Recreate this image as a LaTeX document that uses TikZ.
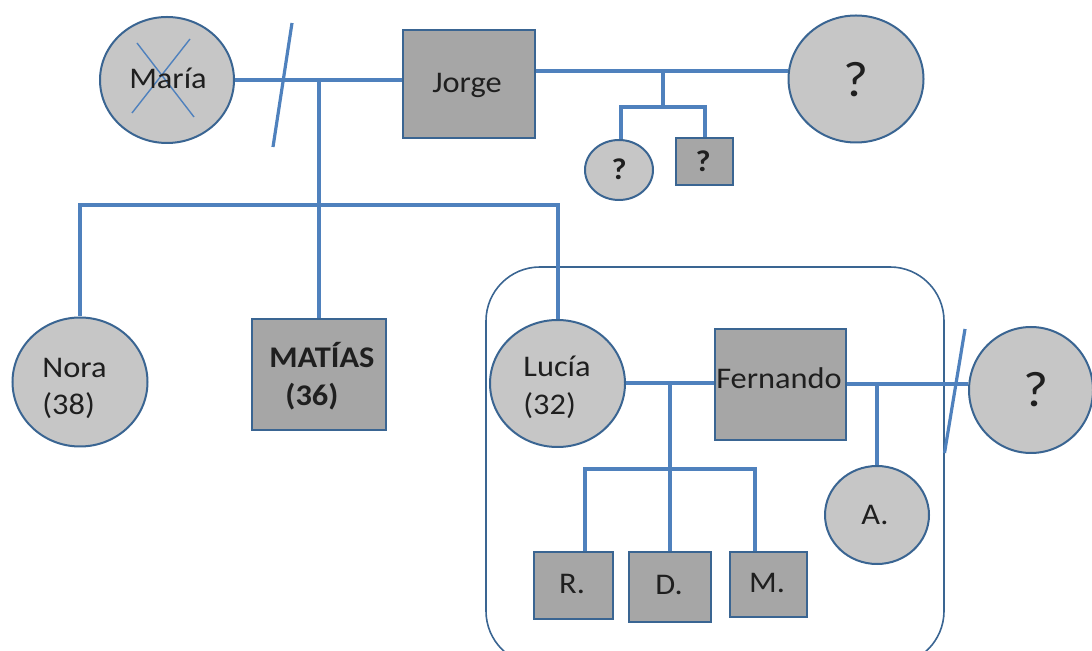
\documentclass[tikz,border=0pt]{standalone}
\usepackage{fontspec}
\setmainfont{Carlito}[FakeStretch=1.08]
\usetikzlibrary{shapes.geometric}
\definecolor{lineblue}{HTML}{4F81BD}
\definecolor{edgeblue}{HTML}{3A6592}
\definecolor{lightfill}{HTML}{C6C6C6}
\definecolor{darkfill}{HTML}{A6A6A6}
\definecolor{txt}{HTML}{1F1F1F}
\begin{document}
\begin{tikzpicture}[x=0.5pt,y=-0.5pt,
  female/.style={ellipse, draw=edgeblue, line width=1pt, fill=lightfill, inner sep=0pt},
  male/.style={rectangle, draw=edgeblue, line width=1pt, fill=darkfill, inner sep=0pt},
  rel/.style={draw=lineblue, line width=2pt},
  slashline/.style={draw=lineblue, line width=1.6pt},
  crossline/.style={draw=lineblue, line width=0.7pt},
  lbl/.style={text=txt, font=\fontsize{15}{18}\selectfont, inner sep=0pt},
  blbl/.style={text=txt, font=\fontsize{15}{18}\selectfont\bfseries, inner sep=0pt},
  qbig/.style={text=txt, font=\fontsize{25}{28}\selectfont, inner sep=0pt},
  qsmall/.style={text=txt, font=\fontsize{15}{18}\selectfont\bfseries, inner sep=0pt},
]
\useasboundingbox (0,0) rectangle (1092,651);
\begin{scope}
\clip (0,0) rectangle (1092,651);
% family frame
\draw[edgeblue, line width=0.8pt, rounded corners=27pt] (486,267) rectangle (944,665);

% shapes
\node[female, minimum width=67pt, minimum height=63pt] (maria) at (167,80) {};
\node[male, minimum width=66pt, minimum height=54pt] (jorge) at (469,84) {};
\node[female, minimum width=67.5pt, minimum height=63.5pt] (q1) at (856,79) {};
\node[female, minimum width=34pt, minimum height=30pt] (q2) at (619,170) {};
\node[male, minimum width=28.5pt, minimum height=23.5pt] (q3) at (704.5,161.5) {};
\node[female, minimum width=67.5pt, minimum height=64.5pt] (nora) at (80,382) {};
\node[male, minimum width=67pt, minimum height=55.5pt] (matias) at (319,374.5) {};
\node[female, minimum width=67.5pt, minimum height=63.5pt] (lucia) at (557.5,383.5) {};
\node[male, minimum width=65.5pt, minimum height=55.5pt] (fern) at (780.5,384.5) {};
\node[male, minimum width=39.5pt, minimum height=33.5pt] (r) at (573.5,585.5) {};
\node[male, minimum width=40.75pt, minimum height=35pt] (d) at (670,587) {};
\node[male, minimum width=38.5pt, minimum height=32.5pt] (m) at (768.5,584.5) {};
\node[female, minimum width=52pt, minimum height=49pt] (a) at (877,515) {};
\node[female, minimum width=62pt, minimum height=63pt] (q4) at (1031,390) {};

% María crossed out
\draw[crossline] (137,43) -- (194,117);
\draw[crossline] (190,39) -- (132,113);

% couple María - Jorge
\draw[rel] (maria.east) -- (maria.east -| jorge.west);
\draw[slashline] (292,23) -- (273,147);
\coordinate (mj) at (matias.north |- maria.east);
\coordinate (sib) at (318,205);
\draw[rel] (mj) -- (matias.north);
\draw[rel] (nora.north) |- (sib) -| (lucia.north);

% couple Jorge - ?
\coordinate (jr) at ([yshift=6.5pt]jorge.east);
\draw[rel] (jr) -- (jr -| q1.west);
\coordinate (jq) at (663,71);
\coordinate (jqb) at (663,107);
\draw[rel] (jq) -- (jqb);
\draw[rel] ([xshift=1pt]q2.north) |- (jqb) -| (q3.north);

% couple Lucía - Fernando
\draw[rel] (lucia.east) -- (lucia.east -| fern.west);
\coordinate (lf) at (670,383.5);
\coordinate (lfb) at (670,469);
\draw[rel] (lf) -- (lfb);
\draw[rel] ([xshift=5.5pt]r.north) |- (lfb) -| ([xshift=-7pt]m.north);
\draw[rel] (lfb) -- (d.north);

% couple Fernando - ?
\draw[rel] (fern.east) -- (fern.east -| q4.west);
\coordinate (fa) at (a.north |- fern.east);
\draw[rel] (fa) -- (a.north);
\draw[slashline] (965,329) -- (944.5,453);

% labels
\node[lbl] (tmaria) at (168,78) {María};
\node[lbl] (tjorge) at (467,85) {Jorge};
\node[qbig] (tq1) at (856,79.5) {?};
\node[qsmall] (tq2) at (619,169) {?};
\node[qsmall] (tq3) at (703,161.5) {?};
\node[lbl, anchor=base west] (tnora1) at (42,378) {Nora};
\node[lbl, anchor=base west] (tnora2) at (42,415) {(38)};
\node[blbl, anchor=base west] (tmat1) at (269,368) {MATÍAS};
\node[blbl, anchor=base west] (tmat2) at (285,406) {(36)};
\node[lbl, anchor=base west] (tluc1) at (523,377) {Lucía};
\node[lbl, anchor=base west] (tluc2) at (523,415) {(32)};
\node[lbl] (tfern) at (779,378) {Fernando};
\node[lbl] (tr) at (572,584) {R.};
\node[lbl] (td) at (669,585) {D.};
\node[lbl] (tm) at (767,583) {M.};
\node[lbl] (ta) at (875,515) {A.};
\node[qbig] (tq4) at (1036,390) {?};
\end{scope}
\end{tikzpicture}
\end{document}
